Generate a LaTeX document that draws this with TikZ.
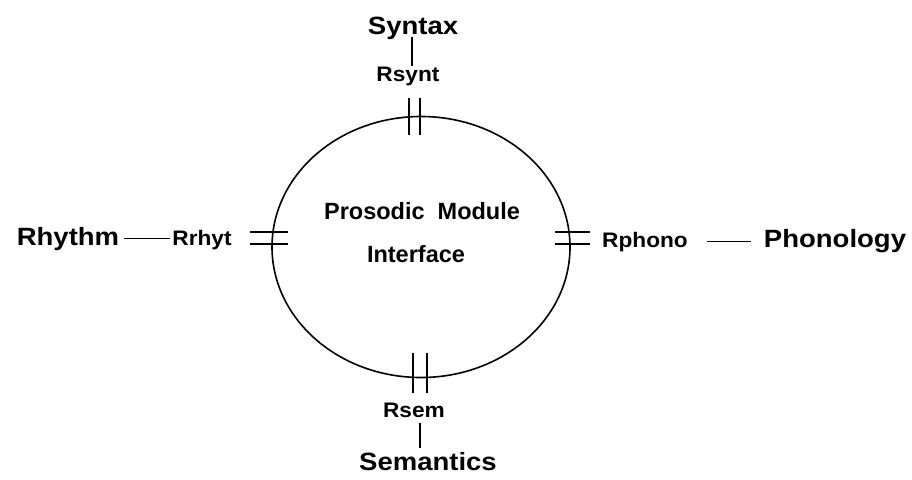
\documentclass[tikz,border=0pt]{standalone}
\usepackage{fontspec}
\setmainfont{Liberation Sans}
\newfontfamily\outerf[FakeStretch=1.1]{Liberation Sans}
\newfontfamily\portf[FakeStretch=1.08]{Liberation Sans}
\usetikzlibrary{shapes.geometric}
\begin{document}
\begin{tikzpicture}[x=1pt,y=-1pt,
  outer/.style={font=\outerf\bfseries\fontsize{25}{30}\selectfont, inner sep=0pt, anchor=base},
  port/.style={font=\portf\bfseries\fontsize{21}{25}\selectfont, inner sep=0pt, anchor=base},
  core/.style={font=\bfseries\fontsize{23.5}{28}\selectfont, inner sep=0pt, anchor=base},
  link/.style={line width=1.3pt},
  tick/.style={line width=1.6pt}]
\useasboundingbox (0,0) rectangle (912,479);
% module
\node[draw, ellipse, line width=1.6pt, minimum width=298pt, minimum height=261pt, inner sep=0pt] (ell) at (421,247) {};
\node[core] (t1) at (422,219) {Prosodic\ \ Module};
\node[core] (t2) at (416,262) {Interface};
% ports (ticks)
\draw[tick] (409,98) -- (409,135);
\draw[tick] (420,98) -- (420,135);
\draw[tick] (250,232) -- (288,232);
\draw[tick] (250,244) -- (288,244);
\draw[tick] (555,232) -- (590,232);
\draw[tick] (555,244) -- (590,244);
\draw[tick] (413,353) -- (413,393);
\draw[tick] (427,353) -- (427,393);
% labels
\node[outer] (syn) at (413,34) {Syntax};
\node[port] (rsynt) at (408,81) {Rsynt};
\node[outer] (rhy) at (68,245) {Rhythm};
\node[port] (rrhyt) at (202,245) {Rrhyt};
\node[port] (rphono) at (645,247) {Rphono};
\node[outer] (phon) at (835,247) {Phonology};
\node[port] (rsem) at (414,417) {Rsem};
\node[outer] (sem) at (428,470) {Semantics};
% connectors
\draw[link] ([yshift=-3pt,xshift=-1pt]syn.base) -- ([xshift=-1pt]syn.base |- rsynt.north);
\draw[link, shorten <=5pt, shorten >=2pt] (rhy.east) -- (rrhyt.west |- rhy.east);
\draw[link, shorten <=19pt, shorten >=13pt] (rphono.east) -- (phon.west |- rphono.east);
\draw[link] ([yshift=-6pt,xshift=6pt]rsem.base) -- ([yshift=4pt,xshift=6pt]rsem.base |- sem.north);
\end{tikzpicture}
\end{document}
